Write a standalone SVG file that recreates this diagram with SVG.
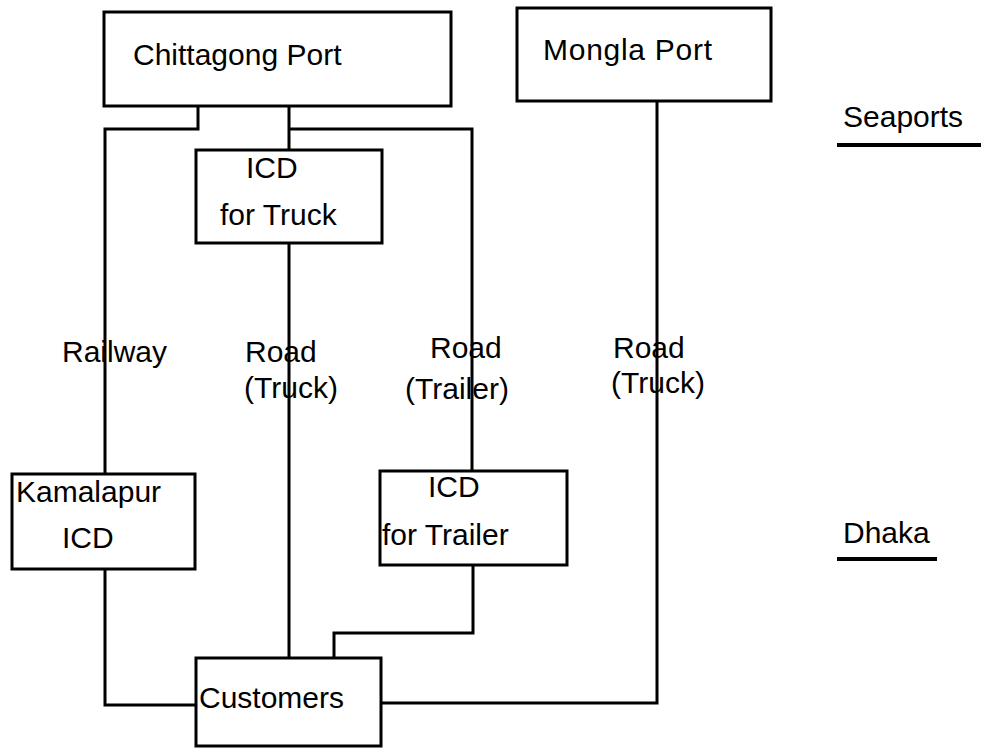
<svg xmlns="http://www.w3.org/2000/svg" width="981" height="749" viewBox="0 0 981 749">
<style>
.box{fill:#fff;stroke:#000;stroke-width:3}
.ln{fill:none;stroke:#000;stroke-width:3}
.ul{stroke:#000;stroke-width:4}
text{font-family:"Liberation Sans",Arial,sans-serif;font-size:30px;fill:#000}
</style>
<rect width="981" height="749" fill="#fff"/>
<g id="connectors">
<path class="ln" d="M198,106 V129 H105 V474"/>
<path class="ln" d="M105,569 V705 H196"/>
<path class="ln" d="M289,106 V150"/>
<path class="ln" d="M289,129 H472 V471"/>
<path class="ln" d="M289,243 V658"/>
<path class="ln" d="M473,565 V633 H334 V658"/>
<path class="ln" d="M657,101 V703 H381"/>
</g>
<g id="chittagong"><rect class="box" x="104" y="12" width="347" height="94"/><text x="133" y="65">Chittagong Port</text></g>
<g id="mongla"><rect class="box" x="517" y="8" width="254" height="93"/><text x="543" y="60" textLength="169">Mongla Port</text></g>
<g id="icd-truck"><rect class="box" x="196" y="150" width="186" height="93"/><text x="246" y="178">ICD</text><text x="220" y="225">for Truck</text></g>
<g id="kamalapur"><rect class="box" x="12" y="474" width="183" height="95"/><text x="16" y="502">Kamalapur</text><text x="62" y="548">ICD</text></g>
<g id="icd-trailer"><rect class="box" x="380" y="471" width="187" height="94"/><text x="428" y="497">ICD</text><text x="382" y="545">for Trailer</text></g>
<g id="customers"><rect class="box" x="196" y="658" width="185" height="88"/><text x="199" y="708">Customers</text></g>
<g id="labels">
<text x="62" y="362">Railway</text>
<text x="245" y="362">Road</text><text x="244" y="398">(Truck)</text>
<text x="430" y="358">Road</text><text x="405" y="399">(Trailer)</text>
<text x="613" y="358">Road</text><text x="611" y="393">(Truck)</text>
</g>
<g id="legend">
<text x="843" y="127">Seaports</text><line class="ul" x1="837" y1="145" x2="981" y2="145"/>
<text x="843" y="543">Dhaka</text><line class="ul" x1="837" y1="559" x2="937" y2="559"/>
</g>
</svg>
